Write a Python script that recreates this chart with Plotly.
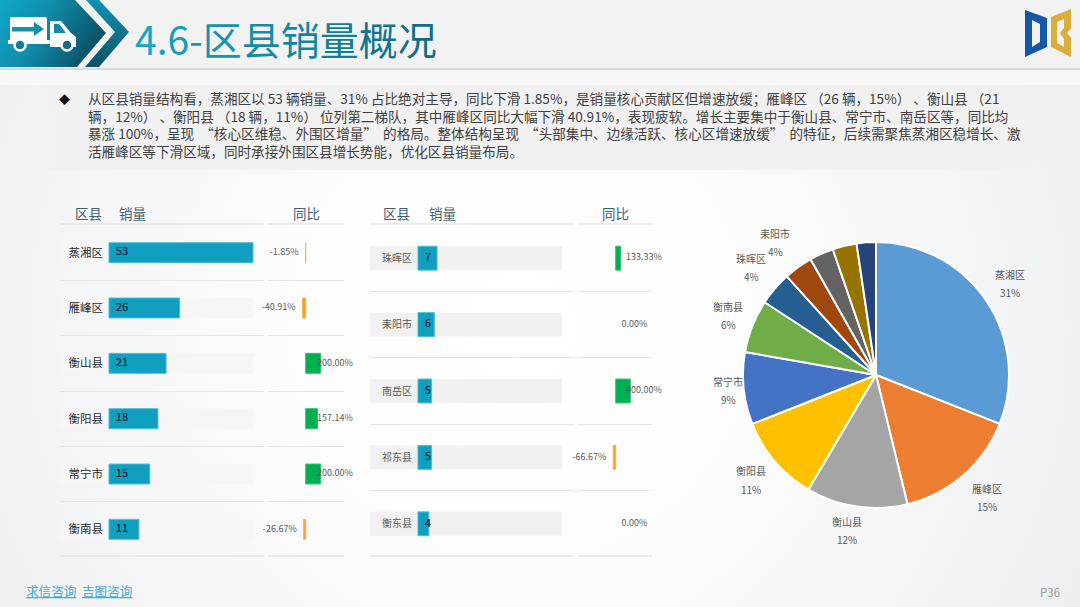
import base64

import plotly.graph_objects as go

W, H = 1080, 607
FONT = "Noto Sans CJK SC"

# data
left_names = ["蒸湘区", "雁峰区", "衡山县", "衡阳县", "常宁市", "衡南县"]
left_sales = [53, 26, 21, 18, 15, 11]
left_yoy = [-1.85, -40.91, 200.00, 157.14, 200.00, -26.67]

right_names = ["珠晖区", "耒阳市", "南岳区", "祁东县", "衡东县"]
right_sales = [7, 6, 5, 5, 4]
right_yoy = [133.33, 0.00, 400.00, -66.67, 0.00]

pie_colors = ["#5B9BD5", "#ED7D31", "#A5A5A5", "#FFC000", "#4472C4", "#70AD47",
              "#255E91", "#9E480E", "#636363", "#997300", "#264478"]

title_chars = list("4.6-区县销量概况")
title_colors = ["#17A5C5", "#16A1C1", "#169DBC", "#1599B7", "#1593AF", "#148CA7",
                "#13859E", "#127D94", "#11768B", "#106E82"]

body_lines = [
    "从区县销量结构看，蒸湘区以 53 辆销量、31% 占比绝对主导，同比下滑 1.85%，是销量核心贡献区但增速放缓；雁峰区 （26 辆，15%） 、衡山县 （21",
    "辆，12%） 、衡阳县 （18 辆，11%） 位列第二梯队，其中雁峰区同比大幅下滑 40.91%，表现疲软。增长主要集中于衡山县、常宁市、南岳区等，同比均",
    "暴涨 100%，呈现\u00a0\u00a0“核心区维稳、外围区增量”\u00a0\u00a0的格局。整体结构呈现\u00a0\u00a0“头部集中、边缘活跃、核心区增速放缓”\u00a0\u00a0的特征，后续需聚焦蒸湘区稳增长、激",
    "活雁峰区等下滑区域，同时承接外围区县增长势能，优化区县销量布局。",
]

# slide artwork: background, header chevrons, truck and logo
BACKGROUND = """<svg xmlns="http://www.w3.org/2000/svg" width="1080" height="607" viewBox="0 0 1080 607">
<defs>
<radialGradient id="bg" gradientUnits="userSpaceOnUse" cx="520" cy="330" r="620">
<stop offset="0" stop-color="#ffffff"/><stop offset="0.35" stop-color="#fdfdfd"/><stop offset="1" stop-color="#eeeff1"/>
</radialGradient>
<linearGradient id="main" x1="0" y1="0" x2="1" y2="0.35">
<stop offset="0" stop-color="#10A6C8"/><stop offset="0.45" stop-color="#118DAC"/><stop offset="1" stop-color="#0B5368"/>
</linearGradient>
<linearGradient id="second" x1="0" y1="0" x2="0" y2="1">
<stop offset="0" stop-color="#1093B2"/><stop offset="1" stop-color="#0B5266"/>
</linearGradient>
<linearGradient id="band" x1="0" y1="0" x2="1" y2="0">
<stop offset="0" stop-color="#f1f1f2" stop-opacity="0"/><stop offset="0.03" stop-color="#f1f1f2"/>
<stop offset="0.97" stop-color="#f1f1f2"/><stop offset="1" stop-color="#f1f1f2" stop-opacity="0"/>
</linearGradient>
</defs>
<rect width="1080" height="607" fill="url(#bg)"/>
<rect width="1080" height="68" fill="#f2f2f3"/>
<rect y="68" width="1080" height="2" fill="#d8d9db"/>
<rect y="70" width="1080" height="15" fill="#f8f8f8"/>
<rect x="30" y="85" width="1020" height="85" fill="url(#band)"/>
<polygon points="0,0 75,0 106,33 77,67 0,67" fill="url(#main)"/>
<polygon points="86,0 99,0 129,32 99,67 85,67 115,32" fill="url(#second)"/>
<rect x="10" y="17" width="37" height="25" rx="2" fill="#ffffff"/>
<rect x="8" y="40" width="42" height="4" fill="#ffffff"/>
<path d="M12 31.5 H34 V36 L44 29 L34 22 V27 H12 Z" fill="#1191B0"/>
<path d="M50 21 H61 L71 33 L76 37 V47 H50 Z" fill="#ffffff"/>
<path d="M54 24 V33 H66 L59 24 Z" fill="#1187A4"/>
<circle cx="20" cy="45" r="5.5" fill="#0F7E98" stroke="#fff" stroke-width="2.5"/>
<circle cx="67" cy="45" r="5.5" fill="#0E6F88" stroke="#fff" stroke-width="2.5"/>
<path fill="#1357A6" fill-rule="evenodd" d="M1025 10 L1047 18 V47 L1025 57 Z M1032 20 V47 L1040 42 V24 Z"/>
<path fill="#D9AE3B" fill-rule="evenodd" d="M1051 17 L1071 9 V28 L1067 33 L1071 38 V57 L1051 47 Z M1057 22 V43 L1064 47 V39 L1060 33 L1064 28 V19 Z"/>
</svg>"""


def fx(px):
    return px / W


def fy(py):
    return 1 - py / H


def label(x, y, text, size, color, anchor="center", family=FONT):
    return dict(x=fx(x), y=fy(y), xref="paper", yref="paper", text=text, showarrow=False,
                xanchor=anchor, yanchor="middle", align=anchor,
                font=dict(size=size, color=color, family=family))


fig = go.Figure()
annotations = []
shapes = []
TOP, BOTTOM = 225, 557


def add_panel(names, sales, yoy, suffix, yoy_suffix, panel_x, zero_x, scale, bar_start,
              name_size, name_color, track_color, value_x, positive_label_x):
    """One table: names + sales bars in one pair of axes, yoy bars in another."""
    unit = 144 / max(left_sales)  # px per sale, shared by both tables
    sales_left, sales_right = panel_x, panel_x + 204
    sales_range = [(sales_left - bar_start) / unit, (sales_right - bar_start) / unit]
    yoy_left, yoy_right = panel_x + 208, panel_x + (284 if suffix == "" else 282)
    yoy_range = [(yoy_left - zero_x) / scale, (yoy_right - zero_x) / scale]
    ax = "x" + suffix
    ay = "y" + suffix
    bx = "x" + yoy_suffix
    by = "y" + yoy_suffix

    # pale track behind each sales bar, running under the name column
    fig.add_trace(go.Bar(
        y=names, x=[max(left_sales) - sales_range[0]] * len(names), base=sales_range[0],
        orientation="h", width=0.36, marker=dict(color=track_color, line=dict(width=0)),
        xaxis=ax, yaxis=ay, showlegend=False, hoverinfo="skip"))
    fig.add_trace(go.Bar(
        y=names, x=sales, orientation="h", width=0.36,
        marker=dict(color="#109FBF", line=dict(color="#4DBBD8", width=1)),
        xaxis=ax, yaxis=ay, showlegend=False))
    fig.add_trace(go.Scatter(
        y=names, x=[(value_x - bar_start) / unit] * len(names), text=[str(v) for v in sales],
        mode="text", textposition="middle center",
        textfont=dict(size=11, color="#0C2C3C", family=FONT, weight=500),
        xaxis=ax, yaxis=ay, showlegend=False, cliponaxis=False))

    fig.add_trace(go.Bar(
        y=names, x=yoy, orientation="h", width=0.36,
        marker=dict(color=["#00B050" if v > 0 else "#F5A02A" for v in yoy],
                    line=dict(color=["#2CC070" if v > 0 else "#F7B04A" for v in yoy],
                              width=[0 if v == 0 else 1 for v in yoy])),
        xaxis=bx, yaxis=by, showlegend=False))

    # yoy labels: negatives sit left of the bar, zero and positives to the right
    for name, v in zip(names, yoy):
        if v < 0:
            x, pos = v - 7 / scale, "middle left"
        elif v == 0:
            x, pos = 18.8 / scale, "middle center"
        else:
            x, pos = (positive_label_x - zero_x) / scale, "middle right"
        fig.add_trace(go.Scatter(
            y=[name], x=[x], text=[f"{v:.2f}%"], mode="text", textposition=pos,
            textfont=dict(size=9, color="#595959", family=FONT),
            xaxis=bx, yaxis=by, showlegend=False, cliponaxis=False))

    grid = dict(showgrid=True, gridcolor="#E3E5E8", gridwidth=1, tickson="boundaries",
                type="category", categoryorder="array", categoryarray=names,
                range=[len(names) - 0.5, -0.5], domain=[fy(BOTTOM), fy(TOP)],
                showline=False, zeroline=False, ticks="")
    fig.update_layout({
        "xaxis" + suffix: dict(domain=[fx(sales_left), fx(sales_right)], range=sales_range,
                               visible=False, anchor=ay),
        "yaxis" + suffix: dict(anchor="free", position=fx(bar_start), showticklabels=True,
                               ticklabelstandoff=6,
                               tickfont=dict(size=name_size, color=name_color, family=FONT), **grid),
        "xaxis" + yoy_suffix: dict(domain=[fx(yoy_left), fx(yoy_right)], range=yoy_range,
                                   visible=False, anchor=by),
        "yaxis" + yoy_suffix: dict(anchor=bx, showticklabels=False, **grid),
    })

    # gridlines stop inside the range, so the first and last rule are drawn here
    for y in (TOP - 1, BOTTOM - 1):
        for x0, x1 in ((sales_left, sales_right), (yoy_left, yoy_right)):
            shapes.append(dict(type="line", xref="paper", yref="paper",
                               x0=fx(x0), x1=fx(x1), y0=fy(y), y1=fy(y),
                               line=dict(color="#E3E5E8", width=1.5), layer="below"))


add_panel(left_names, left_sales, left_yoy, "", "2", 60, 305.7, 0.075, 109,
          11.5, "#2B2B2B", "#F6F6F6", 122, 317)
add_panel(right_names, right_sales, right_yoy, "3", "4", 370, 615.7, 0.0365, 418,
          10, "#595959", "#F1F1F1", 428, 626)

# pie with its labels set apart from the slices, as on the slide
pie_names = left_names + right_names
pie_values = left_sales + right_sales
total = sum(pie_values)
fig.add_trace(go.Pie(
    labels=pie_names, values=pie_values, sort=False, direction="clockwise", rotation=0,
    domain=dict(x=[fx(743), fx(1009)], y=[fy(508), fy(242)]),
    marker=dict(colors=pie_colors, line=dict(color="#ffffff", width=2)),
    textinfo="none", showlegend=False))

pie_label_pos = [(1010, 274), (987, 488), (847, 521), (751, 471),
                 (728, 381), (728, 306), (751, 258), (775, 233)]
for (x, y), name, v in zip(pie_label_pos, pie_names, pie_values):
    annotations.append(label(x, y, name, 10, "#595959"))
    annotations.append(label(x, y + 18.5, f"{v / total:.0%}", 10, "#595959"))

# table headers
for x, text in [(88, "区县"), (132, "销量"), (306, "同比"),
                (396, "区县"), (442, "销量"), (615, "同比")]:
    annotations.append(label(x, 213, text, 13.5, "#3E6070"))

# slide title, body text and footer
title = "".join(f'<span style="color:{c}">{ch}</span>' for ch, c in zip(title_chars, title_colors))
annotations.append(label(133, 38, title, 39, "#148CA7", anchor="left"))
annotations.append(label(64, 99, "◆", 11, "#111111"))
annotations.append(label(86, 124.5, "<br>".join(body_lines), 13.6, "#404040", anchor="left"))
annotations.append(label(23.5, 590, "<u>求信咨询</u>", 12.6, "#48A9C9", anchor="left"))
annotations.append(label(79.5, 590, "<u>吉图咨询</u>", 12.6, "#48A9C9", anchor="left"))
annotations.append(label(1038, 592, "P36", 11.5, "#9A9A9A", anchor="left"))

fig.update_layout(
    width=W, height=H, autosize=False,
    margin=dict(l=0, r=0, t=0, b=0),
    paper_bgcolor="#ffffff", plot_bgcolor="rgba(0,0,0,0)",
    barmode="overlay", showlegend=False,
    annotations=annotations,
    shapes=shapes,
    images=[dict(
        source="data:image/svg+xml;base64," + base64.b64encode(BACKGROUND.encode()).decode(),
        xref="paper", yref="paper", x=0, y=1, sizex=1, sizey=1,
        xanchor="left", yanchor="top", sizing="stretch", layer="below")],
)

fig.write_html("out.html", post_script="document.body.style.margin='0';",
               config={"displayModeBar": False})
